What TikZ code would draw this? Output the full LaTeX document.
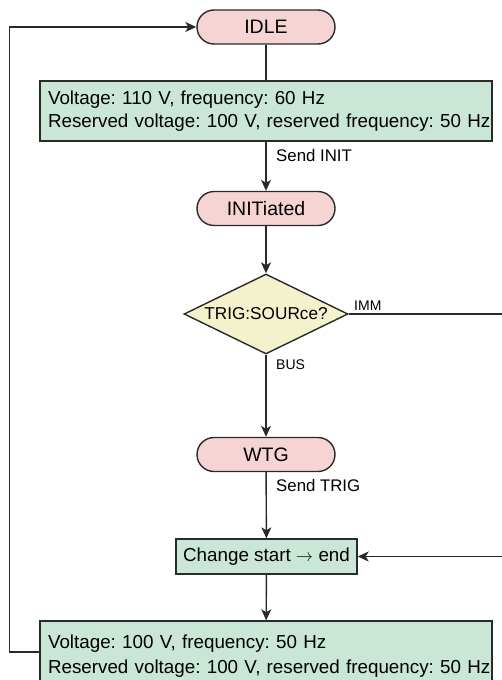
\documentclass[tikz,border=0pt]{standalone}
\usepackage{fontspec}
\setmainfont{Liberation Sans}
\frenchspacing
\usetikzlibrary{shapes.geometric,arrows.meta}

\definecolor{statefill}{HTML}{F6D4D4}
\definecolor{boxfill}{HTML}{C9E6D6}
\definecolor{askfill}{HTML}{F3F2CD}
\definecolor{ink}{HTML}{2A2A2A}

\begin{document}
\begin{tikzpicture}[x=1pt,y=-1pt,
    line/.style={draw=ink, line width=1.4pt},
    arrow/.style={line, -{Stealth[length=11pt,width=10pt,inset=3pt]}},
    state/.style={line, fill=statefill, rounded corners=17pt, minimum width=138pt,
      minimum height=34pt, inner sep=0pt, font=\fontsize{19.5}{22}\selectfont},
    setbox/.style={line, fill=boxfill, minimum width=452pt, text width=436pt,
      inner xsep=8pt, inner ysep=0pt, align=left, font=\fontsize{18.8}{24}\selectfont},
    ask/.style={line, fill=askfill, diamond, aspect=2.05, inner sep=0pt,
      minimum width=164pt, minimum height=80pt, font=\fontsize{17.2}{20}\selectfont},
    lbl/.style={font=\fontsize{16.8}{19}\selectfont, inner sep=0pt},
    tiny/.style={font=\fontsize{14}{16}\selectfont, inner sep=0pt}]

  \useasboundingbox (0,0) rectangle (502,680);

  \node[state] (idle) at (266,27) {IDLE};
  \node[setbox, minimum height=60pt, font=\fontsize{18.8}{22.5}\selectfont] (setin) at (266,111)
    {\mbox{Voltage: 110 V, frequency: 60 Hz}\\\mbox{Reserved voltage: 100 V, reserved frequency: 50 Hz}};
  \node[state] (initiated) at (266,208.5) {INITiated};
  \node[ask] (trig) at (266,314) {TRIG:SOURce?};
  \node[state] (wtg) at (266,454.5) {WTG};
  \node[line, fill=boxfill, minimum width=181pt, minimum height=35pt, inner sep=0pt,
    font=\fontsize{18.8}{22}\selectfont] (change) at (266.5,556.5) {Change start $\rightarrow$ end};
  \node[setbox, minimum height=70pt, font=\fontsize{18.8}{25}\selectfont] (setout) at (266,656)
    {\mbox{Voltage: 100 V, frequency: 50 Hz}\\\mbox{Reserved voltage: 100 V, reserved frequency: 50 Hz}};

  % free ends at the right border
  \coordinate (immend) at (502,314);
  \coordinate (trigend) at (502,556.5);

  \draw[line] (idle) -- (setin);
  \draw[arrow] (setin) -- (initiated);
  \node[lbl, anchor=west] (sendinit) at (276,155) {Send INIT};
  \draw[arrow] (initiated) -- (trig);

  \draw[line] (trig.east) -- (immend);
  \node[tiny, anchor=west] (imm) at (354,306) {IMM};
  \draw[arrow] (trig.south) -- (wtg);
  \node[tiny, anchor=west] (bus) at (276,365) {BUS};

  \draw[arrow] (wtg) -- (change);
  \node[lbl, anchor=west] (sendtrig) at (276,485) {Send TRIG};
  \draw[arrow] (trigend) -- (change.east);
  \draw[arrow] (change) -- (setout);

  \draw[arrow] ([yshift=4pt]setout.west) -- ++(-30,0) |- (idle.west);
\end{tikzpicture}
\end{document}
